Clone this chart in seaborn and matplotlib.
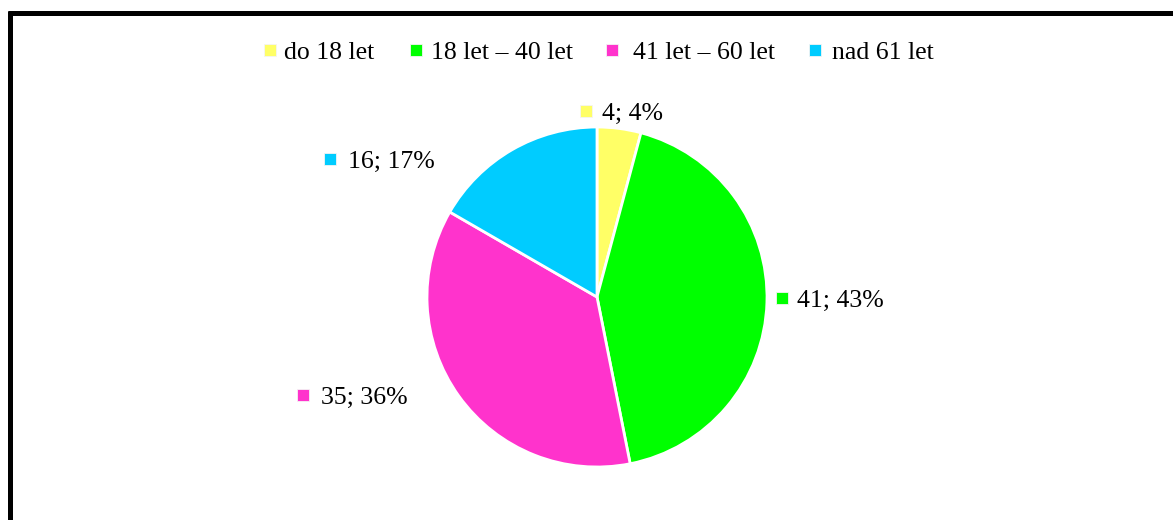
import matplotlib
matplotlib.use("Agg")
import matplotlib.pyplot as plt
from matplotlib.lines import Line2D
import seaborn as sns

categories = ["do 18 let", "18 let – 40 let", "41 let – 60 let", "nad 61 let"]
values = [4, 41, 35, 16]
colors = ["#FFFF66", "#00FF00", "#FF33CC", "#00CCFF"]

sns.set_style("white")
plt.rcParams["font.family"] = ["Liberation Serif", "DejaVu Serif"]

W, H = 1173, 520
fig = plt.figure(figsize=(W / 100, H / 100), dpi=100)
ax = fig.add_axes([0, 0, 1, 1])

cx, cy, r = 597, H - 297, 170
wedges, _ = ax.pie(values, colors=colors, startangle=90, counterclock=False,
                   center=(cx, cy), radius=r,
                   wedgeprops=dict(edgecolor="white", linewidth=2))
ax.set_xlim(0, W)
ax.set_ylim(0, H)
ax.set_aspect("equal")
ax.axis("off")

FS = 18.5
total = sum(values)
# label positions (pixel coords from top-left): marker x, text x, y
label_pos = [(586, 602, 111), (782, 797, 298), (303, 321, 395), (330, 348, 159)]
for (mx, tx, ty), v, c in zip(label_pos, values, colors):
    pct = round(100 * v / total)
    ax.plot([mx], [H - ty], marker="s", markersize=8, color=c,
            markeredgecolor="#f4f4f4", markeredgewidth=0.6, linestyle="none")
    ax.text(tx, H - ty - 3, f"{v}; {pct}%", fontsize=FS, va="center", ha="left",
            color="black")

# legend entries (marker x, text x) in pixels
legend_pos = [(270, 284), (416, 431), (612, 633), (815, 832)]
ly = 50
for (mx, tx), lab, c in zip(legend_pos, categories, colors):
    ax.plot([mx], [H - ly], marker="s", markersize=8, color=c,
            markeredgecolor="#f4f4f4", markeredgewidth=0.6, linestyle="none")
    ax.text(tx, H - ly - 3, lab, fontsize=FS, va="center", ha="left", color="black")

# frame lines (top and left)
fig.add_artist(Line2D([7.5 / W, 1], [1 - 13 / H, 1 - 13 / H], color="black",
                      linewidth=3.6, transform=fig.transFigure, solid_capstyle="butt"))
fig.add_artist(Line2D([9.5 / W, 9.5 / W], [0, 1 - 11 / H], color="black",
                      linewidth=3.6, transform=fig.transFigure, solid_capstyle="butt"))

fig.savefig("out.png", dpi=100, facecolor="white")
